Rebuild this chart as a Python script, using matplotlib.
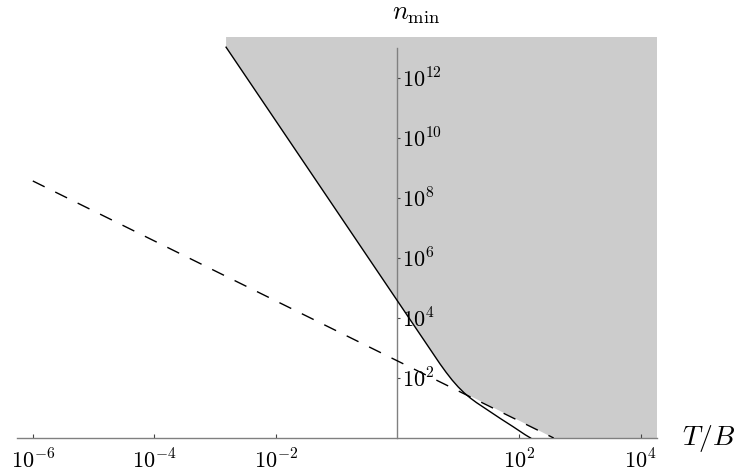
import numpy as np
import matplotlib
matplotlib.use("Agg")
import matplotlib.pyplot as plt

plt.rcParams['mathtext.fontset'] = 'cm'
plt.rcParams['font.family'] = 'serif'

# solid curve (log10 values)
log_tb_solid = np.array([-2.82, -2.5, -2.0, -1.5, -1.0, -0.5, 0.0, 0.3, 0.5, 0.7, 0.8,
                         0.9, 1.0, 1.1, 1.2, 1.3, 1.5, 1.7, 1.9, 2.1, 2.19])
log_n_solid = np.array([13.03, 12.07, 10.57, 9.07, 7.57, 6.07, 4.57, 3.67, 3.07, 2.47, 2.19,
                        1.93, 1.70, 1.50, 1.33, 1.18, 0.91, 0.64, 0.38, 0.11, 0.0])

# dashed line
log_tb_dashed = np.array([-6.0, 2.57])
log_n_dashed = np.array([8.57, 0.0])

tb_solid = 10.0 ** log_tb_solid
n_solid = 10.0 ** log_n_solid
tb_dashed = 10.0 ** log_tb_dashed
n_dashed = 10.0 ** log_n_dashed

xticks = [1e-6, 1e-4, 1e-2, 1e2, 1e4]
xticklabels = [r'$10^{-6}$', r'$10^{-4}$', r'$10^{-2}$', r'$10^{2}$', r'$10^{4}$']
yticks = [1e2, 1e4, 1e6, 1e8, 1e10, 1e12]
yticklabels = [r'$10^{2}$', r'$10^{4}$', r'$10^{6}$', r'$10^{8}$', r'$10^{10}$', r'$10^{12}$']

xlim = (10 ** -6.26, 10 ** 4.27)
ylim = (1.0, 10 ** 13.37)

fig = plt.figure(figsize=(7.4, 4.75), dpi=100)
ax = fig.add_axes([17 / 740, 1 - 438 / 475, 640 / 740, 401 / 475])
ax.set_xscale('log')
ax.set_yscale('log')
ax.set_xlim(*xlim)
ax.set_ylim(*ylim)

# shaded region: above the larger of the two curves
d_at_solid = np.interp(log_tb_solid, log_tb_dashed, log_n_dashed)
keep = log_n_solid >= d_at_solid
bx = list(tb_solid[keep]) + [tb_dashed[-1], xlim[1], xlim[1], tb_solid[0]]
by = list(n_solid[keep]) + [n_dashed[-1], ylim[0], ylim[1], ylim[1]]
ax.fill(bx, by, color='#cccccc', lw=0, zorder=1)

ax.plot(tb_solid, n_solid, color='black', lw=1.0, zorder=3)
ax.plot(tb_dashed, n_dashed, color='black', lw=1.0, linestyle=(0, (9.5, 8.5)), zorder=3)

# axes in the Mathematica style
gray = '#808080'
ax.spines['top'].set_visible(False)
ax.spines['left'].set_visible(False)
ax.spines['bottom'].set_color(gray)
ax.spines['bottom'].set_linewidth(1.0)
ax.spines['right'].set_position(('data', 1.0))
ax.spines['right'].set_bounds(1.0, 1e13)
ax.spines['right'].set_color(gray)
ax.spines['right'].set_linewidth(1.0)
ax.yaxis.tick_right()

ax.set_xticks(xticks)
ax.set_xticklabels(xticklabels)
ax.set_yticks(yticks)
ax.set_yticklabels(yticklabels)
ax.minorticks_off()
ax.tick_params(axis='x', direction='in', length=3, width=0.8, color='#444444',
               pad=8, labelsize=16)
ax.tick_params(axis='y', direction='out', length=2.5, width=0.8, color='#444444',
               pad=0.5, labelsize=16)
ax.patch.set_visible(False)

fig.text(416 / 740, 1 - 14 / 475, r'$n_{\min}$', ha='center', va='center', fontsize=19)
fig.text(709 / 740, 1 - 439 / 475, r'$T/B$', ha='center', va='center', fontsize=20)

fig.savefig('out.png', dpi=100)
